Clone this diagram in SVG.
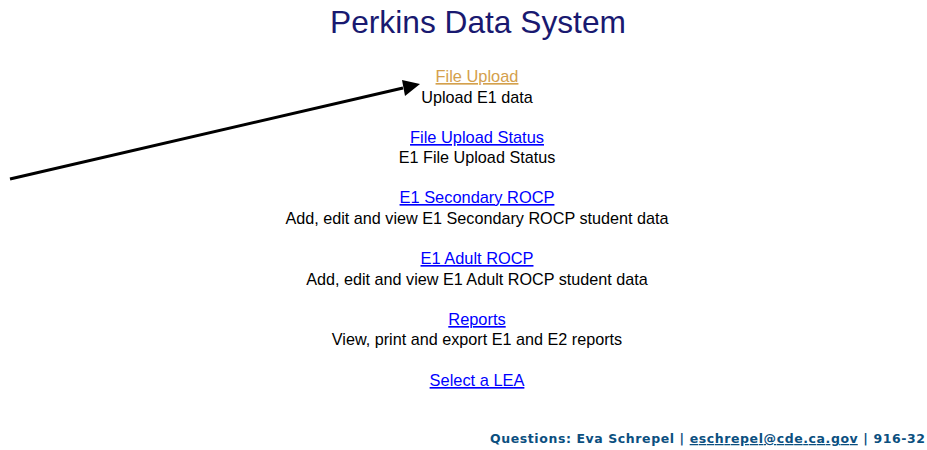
<svg xmlns="http://www.w3.org/2000/svg" width="927" height="450" viewBox="0 0 927 450">
<defs>
<style>
.t{font-family:"Liberation Sans",Arial,sans-serif;text-anchor:middle}
.title{font-size:31.7px;fill:#191970}
.link{font-size:16.4px;fill:#0000ff;text-decoration:underline}
.visited{fill:#d4a04c}
.desc{font-size:16.2px;fill:#000}
.foot{font-family:"DejaVu Sans",Verdana,sans-serif;font-weight:bold;font-size:12.5px;fill:#0b4f7f}
</style>
</defs>
<rect width="927" height="450" fill="#fff"/>
<text class="t title" x="478" y="33">Perkins Data System</text>
<g id="file-upload"><text class="t link visited" x="477" y="82">File Upload</text><text class="t desc" x="477" y="103">Upload E1 data</text></g>
<g id="file-upload-status"><text class="t link" x="477" y="143">File Upload Status</text><text class="t desc" x="477" y="163">E1 File Upload Status</text></g>
<g id="secondary-rocp"><text class="t link" x="477" y="203">E1 Secondary ROCP</text><text class="t desc" x="477" y="224">Add, edit and view E1 Secondary ROCP student data</text></g>
<g id="adult-rocp"><text class="t link" x="477" y="264">E1 Adult ROCP</text><text class="t desc" x="477" y="285">Add, edit and view E1 Adult ROCP student data</text></g>
<g id="reports"><text class="t link" x="477" y="325">Reports</text><text class="t desc" x="477" y="345">View, print and export E1 and E2 reports</text></g>
<g id="select-lea"><text class="t link" x="477" y="386">Select a LEA</text></g>
<g id="connectors">
<line x1="10" y1="179" x2="403" y2="88" stroke="#000" stroke-width="3"/>
<path d="M420,84 L402,80 L405,96 z" fill="#000"/>
</g>
<g id="footer"><text class="foot" x="490" y="443" textLength="435" lengthAdjust="spacing">Questions: Eva Schrepel | <tspan text-decoration="underline">eschrepel@cde.ca.gov</tspan> | 916-32</text></g>
</svg>
